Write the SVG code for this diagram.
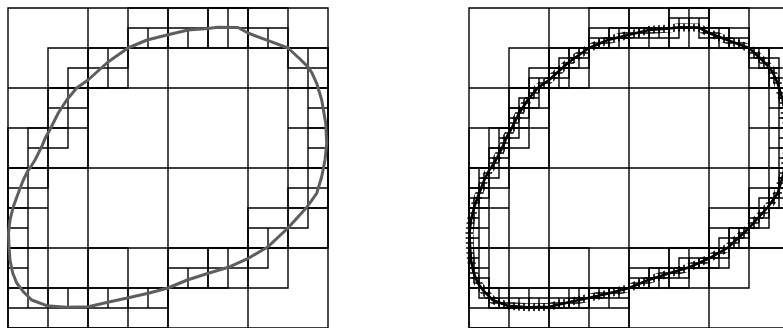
<svg xmlns="http://www.w3.org/2000/svg" xmlns:xlink="http://www.w3.org/1999/xlink" width="783" height="328" viewBox="0 0 783 328">
<style>
.g{fill:none;stroke:#000;stroke-width:1.4}
.crv{fill:none;stroke-linejoin:round;stroke-linecap:round}
</style>
<defs>
<polyline id="curve" points="28.3,170 30,168 35,160 41.7,146.7 45.5,137.5 50.5,128.5 58.3,113 66.7,100 76.7,88 88,80 108,62 128,48 147,40 167,35 188,30 208,28.5 218,27.3 238,27.5 248,33 268.3,40.7 288,48 300,59 308.5,67.5 312,73 316.7,83.3 321.7,100 325.7,123.3 326.7,143.3 325,160 321.7,176.7 316.7,193.3 307,207 288,228 267.3,247.3 248.3,258.3 228.3,267.3 208.3,273.3 187.3,280 168,288 148.3,293.3 128.3,297.7 110,301.7 88.3,306.7 66.7,307.3 46.7,305.7 31.7,300 23.3,291.7 16.7,283 12.7,273 10,260 9,246.7 8.5,233 10,220 13.3,206.7 18.3,193 23.3,180 28.3,170"/>
<g id="base">
<path class="g" d="M8 8H328V328H8Z M88 8V328 M168 8V328 M248 8V328 M8 88H328 M8 168H328 M8 248H328"/>
<path class="g" d="M8 128h40v40h-40z M8 168h40v40h-40z M8 208h40v40h-40z M8 248h40v40h-40z M8 288h40v40h-40z M48 48h40v40h-40z M48 88h40v40h-40z M48 128h40v40h-40z M48 288h40v40h-40z M88 48h40v40h-40z M88 248h40v40h-40z M88 288h40v40h-40z M128 8h40v40h-40z M128 288h40v40h-40z M168 8h40v40h-40z M168 248h40v40h-40z M208 8h40v40h-40z M208 248h40v40h-40z M248 8h40v40h-40z M248 208h40v40h-40z M248 248h40v40h-40z M288 48h40v40h-40z M288 88h40v40h-40z M288 128h40v40h-40z M288 168h40v40h-40z M288 208h40v40h-40z"/>
<path class="g" d="M8 168h20v20h-20z M28 168h20v20h-20z M28 148h20v20h-20z M28 128h20v20h-20z M48 128h20v20h-20z M48 108h20v20h-20z M48 88h20v20h-20z M68 88h20v20h-20z M68 68h20v20h-20z M88 68h20v20h-20z M88 48h20v20h-20z M108 48h20v20h-20z M128 28h20v20h-20z M148 28h20v20h-20z M168 28h20v20h-20z M188 28h20v20h-20z M208 28h20v20h-20z M208 8h20v20h-20z M228 8h20v20h-20z M228 28h20v20h-20z M248 28h20v20h-20z M268 28h20v20h-20z M288 48h20v20h-20z M308 48h20v20h-20z M308 68h20v20h-20z M308 88h20v20h-20z M308 108h20v20h-20z M308 128h20v20h-20z M308 148h20v20h-20z M308 168h20v20h-20z M308 188h20v20h-20z M288 188h20v20h-20z M288 208h20v20h-20z M268 228h20v20h-20z M248 228h20v20h-20z M248 248h20v20h-20z M228 248h20v20h-20z M208 248h20v20h-20z M208 268h20v20h-20z M188 268h20v20h-20z M168 268h20v20h-20z M148 288h20v20h-20z M128 288h20v20h-20z M108 288h20v20h-20z M88 288h20v20h-20z M68 288h20v20h-20z M48 288h20v20h-20z M28 288h20v20h-20z M8 288h20v20h-20z M8 268h20v20h-20z M8 248h20v20h-20z M8 228h20v20h-20z M8 208h20v20h-20z M8 188h20v20h-20z"/>
</g>
<pattern id="g5" patternUnits="userSpaceOnUse" x="469" y="8" width="5" height="5">
<path d="M0 0H5M0 5H5M0 0V5M5 0V5" fill="none" stroke="#000" stroke-width="1.6"/>
</pattern>
<mask id="band" maskUnits="userSpaceOnUse" x="455" y="0" width="340" height="340">
<use xlink:href="#curve" transform="translate(461 0)" fill="none" stroke="#fff" stroke-width="8" stroke-linejoin="round"/>
</mask>
</defs>
<rect width="783" height="328" fill="#fff"/>
<g id="left-panel">
<use xlink:href="#base"/>
<use xlink:href="#curve" class="crv" stroke="#5e5e5e" stroke-width="3"/>
</g>
<g id="right-panel">
<use xlink:href="#base" transform="translate(461 0)"/>
<path class="g" d="M479 178h10v10h-10z M479 168h10v10h-10z M489 168h10v10h-10z M489 158h10v10h-10z M489 148h10v10h-10z M499 148h10v10h-10z M499 138h10v10h-10z M499 128h10v10h-10z M509 128h10v10h-10z M509 118h10v10h-10z M509 108h10v10h-10z M519 108h10v10h-10z M519 98h10v10h-10z M529 98h10v10h-10z M529 88h10v10h-10z M529 78h10v10h-10z M539 78h10v10h-10z M549 78h10v10h-10z M549 68h10v10h-10z M559 68h10v10h-10z M559 58h10v10h-10z M569 58h10v10h-10z M569 48h10v10h-10z M579 48h10v10h-10z M589 38h10v10h-10z M599 38h10v10h-10z M609 38h10v10h-10z M609 28h10v10h-10z M619 28h10v10h-10z M629 28h10v10h-10z M639 28h10v10h-10z M649 28h10v10h-10z M659 28h10v10h-10z M669 28h10v10h-10z M669 18h10v10h-10z M679 18h10v10h-10z M689 18h10v10h-10z M699 18h10v10h-10z M699 28h10v10h-10z M709 28h10v10h-10z M719 28h10v10h-10z M719 38h10v10h-10z M729 38h10v10h-10z M739 38h10v10h-10z M749 48h10v10h-10z M759 48h10v10h-10z M759 58h10v10h-10z M769 58h10v10h-10z M769 68h10v10h-10z M769 78h10v10h-10z M779 78h10v10h-10z M779 88h10v10h-10z M779 98h10v10h-10z M779 108h10v10h-10z M779 118h10v10h-10z M779 128h10v10h-10z M779 138h10v10h-10z M779 148h10v10h-10z M779 158h10v10h-10z M779 168h10v10h-10z M779 178h10v10h-10z M779 188h10v10h-10z M769 188h10v10h-10z M769 198h10v10h-10z M759 198h10v10h-10z M759 208h10v10h-10z M749 208h10v10h-10z M749 218h10v10h-10z M739 228h10v10h-10z M729 228h10v10h-10z M729 238h10v10h-10z M719 238h10v10h-10z M719 248h10v10h-10z M709 248h10v10h-10z M709 258h10v10h-10z M699 258h10v10h-10z M689 258h10v10h-10z M679 258h10v10h-10z M679 268h10v10h-10z M669 268h10v10h-10z M659 268h10v10h-10z M649 268h10v10h-10z M649 278h10v10h-10z M639 278h10v10h-10z M629 278h10v10h-10z M619 288h10v10h-10z M609 288h10v10h-10z M599 288h10v10h-10z M589 288h10v10h-10z M579 288h10v10h-10z M579 298h10v10h-10z M569 298h10v10h-10z M559 298h10v10h-10z M549 298h10v10h-10z M539 298h10v10h-10z M529 298h10v10h-10z M519 298h10v10h-10z M509 298h10v10h-10z M499 298h10v10h-10z M489 298h10v10h-10z M489 288h10v10h-10z M479 288h10v10h-10z M479 278h10v10h-10z M469 278h10v10h-10z M469 268h10v10h-10z M469 258h10v10h-10z M469 248h10v10h-10z M469 238h10v10h-10z M469 228h10v10h-10z M469 218h10v10h-10z M469 208h10v10h-10z M469 198h10v10h-10z M469 188h10v10h-10z M479 188h10v10h-10z"/>
<rect x="455" y="0" width="340" height="340" fill="url(#g5)" mask="url(#band)"/>
<use xlink:href="#curve" transform="translate(461 0)" class="crv" stroke="#000" stroke-width="2.6"/>
</g>
</svg>
